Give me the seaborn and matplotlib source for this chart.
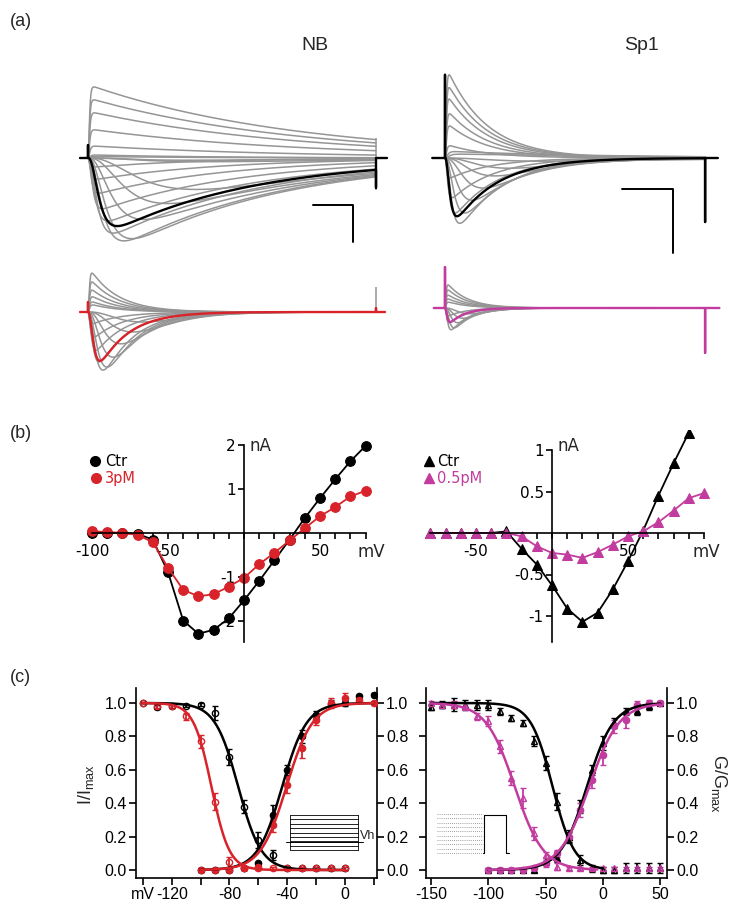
import numpy as np
import pandas as pd
import matplotlib
matplotlib.use('Agg')
import matplotlib.pyplot as plt
import seaborn as sns

# ---------------- data ----------------
# (a) current traces: per sweep peak amplitude (nA), time to peak (ms), decay tau (ms)
nb_pulse = 72.0
nb_gray_amp = [1.92, 1.57, 1.22, 0.76, 0.32, 0.08, 0.04, -0.06, -0.1,
               -0.24, -0.57, -0.95, -1.37, -1.70, -2.03, -2.24, -2.18, -1.66, -1.23, -0.85]
nb_gray_tp = [1.5, 1.5, 1.6, 1.6, 1.8, 2.0, 1.5, 25, 30,
              1.8, 2.3, 2.7, 3.6, 5.0, 6.3, 9.0, 11.0, 14.0, 20.0, 27.0]
nb_gray_tau = [52, 52, 52, 52, 50, 30, 30, 50, 50,
               27, 32, 34, 36, 38, 38, 40, 40, 43, 45, 50]
nb_ctr_trace = {'amp': -1.84, 'tp': 7.3, 'tau': 36.0, 'on': 0.35, 'off': -0.8}

sp1_pulse = 51.0
sp1_gray_amp = [1.30, 1.10, 0.92, 0.69, 0.50, 0.19, 0.10, 0.06, -0.05,
                -0.31, -0.62, -0.86, -1.02, -0.86, -0.66, -0.47, -0.28, -0.16]
sp1_gray_tp = [0.8, 0.8, 0.8, 0.9, 0.9, 1.0, 2.0, 3.0, 20.0,
               1.0, 1.4, 2.0, 2.9, 3.9, 5.3, 7.5, 9.8, 12.7]
sp1_gray_tau = [7.8, 7.8, 7.8, 7.8, 7.8, 8.0, 30, 40, 30,
                8.4, 8.4, 8.6, 8.8, 9.0, 9.5, 10.0, 11.0, 12.0]
sp1_ctr_trace = {'amp': -0.91, 'tp': 2.35, 'tau': 8.4, 'on': 1.3, 'off': -1.0}

nb_tx_gray_amp = [1.05, 0.81, 0.59, 0.41, 0.27, 0.19,
                  -0.32, -0.68, -1.03, -1.35, -1.57, -1.49, -1.22, -0.86, -0.54, -0.27]
nb_tx_gray_tp = [1.0, 1.0, 1.0, 1.1, 1.1, 1.2,
                 1.0, 1.5, 2.0, 2.75, 3.75, 4.75, 6.25, 8.25, 11.25, 13.75]
nb_tx_gray_tau = [7.0, 7.0, 7.0, 7.0, 7.0, 7.0,
                  7.5, 7.5, 7.5, 7.5, 7.5, 7.5, 7.5, 8.0, 8.0, 8.0]
nb_tx_trace = {'amp': -1.32, 'tp': 3.0, 'tau': 7.3, 'on': 0.27, 'off': 0.1}

sp1_tx_gray_amp = [0.36, 0.28, 0.20, 0.14, 0.09,
                   -0.125, -0.23, -0.34, -0.31, -0.23, -0.16, -0.09]
sp1_tx_gray_tp = [0.6, 0.6, 0.6, 0.6, 0.7,
                  0.6, 0.8, 1.2, 1.8, 2.5, 3.5, 4.9]
sp1_tx_gray_tau = [4.0, 4.0, 4.0, 4.0, 4.0,
                   3.5, 3.5, 3.5, 3.5, 3.5, 3.5, 3.5]
sp1_tx_trace = {'amp': -0.22, 'tp': 1.0, 'tau': 3.0, 'on': 0.64, 'off': -0.7}

# (b) I-V relations
iv_v_nb = [-100, -90, -80, -70, -60, -50, -40, -30, -20, -10, 0, 10, 20, 30, 40, 50, 60, 70, 80]
iv_ctr_nb = [0.0, 0.01, 0.0, -0.02, -0.15, -0.89, -1.99, -2.29, -2.20, -1.94, -1.53,
             -1.09, -0.62, -0.15, 0.34, 0.79, 1.22, 1.63, 1.98]
iv_3pm_nb = [0.04, 0.02, 0.0, -0.04, -0.21, -0.79, -1.29, -1.44, -1.39, -1.22, -1.02,
             -0.71, -0.45, -0.17, 0.11, 0.38, 0.59, 0.83, 0.96]

iv_v_sp1_ctr = [-80, -70, -60, -50, -40, -30, -20, -10, 0, 10, 20, 30, 40, 50, 60, 70, 80, 90]
iv_ctr_sp1 = [0.0, 0.0, 0.0, 0.0, 0.0, 0.02, -0.19, -0.38, -0.63, -0.91, -1.07, -0.96,
              -0.68, -0.34, 0.03, 0.45, 0.84, 1.21]
iv_v_sp1 = [-80, -70, -60, -50, -40, -30, -20, -10, 0, 10, 20, 30, 40, 50, 60, 70, 80, 90, 100]
iv_05pm_sp1 = [0.0, 0.0, 0.0, 0.0, 0.0, 0.0, -0.04, -0.16, -0.24, -0.26, -0.30, -0.23,
               -0.14, -0.04, 0.02, 0.13, 0.27, 0.42, 0.48]

# (c) steady-state inactivation and activation (NB)
inact_v_nb = [-140, -130, -120, -110, -100, -90, -80, -70, -60, -50, -40, -30, -20, -10, 0]
inact_ctr_nb = [1.0, 0.976, 0.98, 0.984, 0.99, 0.94, 0.676, 0.38, 0.18, 0.09, 0.01, 0.01, 0.01, 0.01, 0.01]
inact_ctr_nb_err = [0.0, 0.01, 0.01, 0.01, 0.01, 0.04, 0.05, 0.04, 0.05, 0.03, 0.01, 0.01, 0.01, 0.01, 0.01]
inact_3pm_nb = [1.0, 0.98, 0.98, 0.92, 0.77, 0.41, 0.05, 0.01, 0.01, 0.01, 0.01, 0.01, 0.01, 0.01, 0.01]
inact_3pm_nb_err = [0.0, 0.01, 0.01, 0.02, 0.04, 0.05, 0.03, 0.01, 0.01, 0.01, 0.01, 0.01, 0.01, 0.01, 0.01]
act_v_nb = [-100, -90, -80, -70, -60, -50, -40, -30, -20, -10, 0, 10, 20]
act_ctr_nb = [0.0, 0.0, 0.0, 0.01, 0.04, 0.33, 0.60, 0.80, 0.93, 0.996, 1.0, 1.04, 1.05]
act_ctr_nb_err = [0.01, 0.01, 0.01, 0.01, 0.01, 0.06, 0.03, 0.04, 0.02, 0.02, 0.02, 0.01, 0.01]
act_3pm_nb = [0.0, 0.0, 0.0, 0.01, 0.02, 0.27, 0.51, 0.73, 0.90, 1.0, 1.03, 1.02, 1.0]
act_3pm_nb_err = [0.01, 0.01, 0.01, 0.01, 0.01, 0.04, 0.05, 0.06, 0.03, 0.03, 0.03, 0.02, 0.01]

# (c) Sp1
inact_v_sp1 = [-150, -140, -130, -120, -110, -100, -90, -80, -70, -60, -50, -40, -30,
               -20, -10, 0, 10, 20, 30, 40, 50]
inact_ctr_sp1 = [0.976, 0.99, 0.99, 0.99, 0.99, 0.99, 0.95, 0.91, 0.88, 0.77, 0.64, 0.41,
                 0.20, 0.06, 0.01, 0.0, 0.0, 0.01, 0.01, 0.01, 0.01]
inact_ctr_sp1_err = [0.02, 0.02, 0.04, 0.03, 0.03, 0.03, 0.02, 0.02, 0.02, 0.03, 0.04, 0.05,
                     0.04, 0.03, 0.02, 0.02, 0.02, 0.03, 0.03, 0.03, 0.03]
inact_05pm_sp1 = [1.0, 0.99, 0.99, 0.98, 0.92, 0.89, 0.74, 0.55, 0.43, 0.22, 0.09, 0.02,
                  0.01, 0.01, 0.01, 0.01, 0.01, 0.01, 0.01, 0.01, 0.01]
inact_05pm_sp1_err = [0.01, 0.01, 0.02, 0.02, 0.02, 0.03, 0.04, 0.04, 0.06, 0.04, 0.02, 0.02,
                      0.01, 0.01, 0.01, 0.01, 0.01, 0.01, 0.01, 0.01, 0.01]
act_v_sp1 = [-100, -90, -80, -70, -60, -50, -40, -30, -20, -10, 0, 10, 20, 30, 40, 50]
act_ctr_sp1 = [0.0, 0.0, 0.0, 0.0, 0.0, 0.05, 0.07, 0.20, 0.38, 0.60, 0.76, 0.88, 0.95, 0.95, 0.98, 1.0]
act_ctr_sp1_err = [0.01, 0.01, 0.01, 0.01, 0.01, 0.02, 0.02, 0.03, 0.04, 0.03, 0.04, 0.03,
                   0.02, 0.02, 0.02, 0.01]
act_05pm_sp1 = [0.0, 0.0, 0.0, 0.0, 0.01, 0.04, 0.10, 0.20, 0.36, 0.54, 0.69, 0.86, 0.90, 0.99, 1.0, 1.0]
act_05pm_sp1_err = [0.01, 0.01, 0.01, 0.01, 0.01, 0.02, 0.02, 0.02, 0.04, 0.05, 0.06, 0.04,
                    0.05, 0.02, 0.02, 0.01]

# Boltzmann fits (V1/2 mV, slope k mV)
fit_inact_ctr_nb = (-74.0, 8.0)
fit_inact_3pm_nb = (-92.5, 6.2)
fit_act_ctr_nb = (-43.5, 8.5)
fit_act_3pm_nb = (-40.5, 9.0)
fit_inact_ctr_sp1 = (-44.0, 9.5)
fit_inact_05pm_sp1 = (-77.0, 12.5)
fit_act_ctr_sp1 = (-14.0, 11.5)
fit_act_05pm_sp1 = (-12.0, 13.0)

RED = '#d8232a'
MAG = '#c23c9f'
GRAY = '#959595'

# ---------------- figure setup ----------------
sns.set_style('ticks')
plt.rcParams['font.family'] = ['Liberation Sans', 'DejaVu Sans']
plt.rcParams['axes.linewidth'] = 1.1

W, H = 729, 901
fig = plt.figure(figsize=(W / 100, H / 100), dpi=100)


def px_axes(left, top, right, bottom):
    return fig.add_axes([left / W, 1 - bottom / H, (right - left) / W, (bottom - top) / H])


def na_current(t, amp, tp, tau_h):
    # m^3 h shape whose peak lands at tp
    lo, hi = np.log(tp * 1e-3), np.log(tp * 1e3)
    for _ in range(80):
        tm = np.exp(0.5 * (lo + hi))
        x = np.exp(-tp / tm)
        g = 3 * tau_h * x / (tm * (1 - x)) - 1
        if g > 0:
            hi = np.log(tm)
        else:
            lo = np.log(tm)
    f = (1 - np.exp(-t / tm)) ** 3 * np.exp(-t / tau_h)
    return amp * f / f.max()


def trace_panel(box, x0, pxms, y0, pxna, T, amps, tps, taus, main, main_color, pre, post):
    left, top, right, bottom = box
    ax = px_axes(left, top, right, bottom)
    ax.set_xlim((left - x0) / pxms, (right - x0) / pxms)
    ax.set_ylim((y0 - bottom) / pxna, (y0 - top) / pxna)
    t = np.linspace(0, T, 1500)
    frames = []
    for i, (a, tp, th) in enumerate(zip(amps, tps, taus)):
        frames.append(pd.DataFrame({'t': t, 'I': na_current(t, a, tp, th), 'sweep': i}))
    df = pd.concat(frames)
    sns.lineplot(data=df, x='t', y='I', units='sweep', estimator=None, sort=False,
                 color=GRAY, lw=1.1, ax=ax, legend=False)
    I = na_current(t, main['amp'], main['tp'], main['tau'])
    tt = np.concatenate([[-pre, 0, 0], t, [T, T, T + post]])
    ii = np.concatenate([[0, 0, main['on']], I, [main['off'], 0, 0]])
    sns.lineplot(x=tt, y=ii, sort=False, estimator=None, color=main_color, lw=1.7, ax=ax)
    ax.axis('off')
    return ax


# ---------------- (a) ----------------
ax1 = trace_panel((70, 55, 395, 260), 88, 4.0, 158, 37.0, nb_pulse,
                  nb_gray_amp, nb_gray_tp, nb_gray_tau, nb_ctr_trace, 'black', 2.0, 2.75)
ax1.vlines(nb_pulse, -0.86, 0.54, color=GRAY, lw=1.1, zorder=1)
ax2 = trace_panel((425, 55, 725, 260), 445, 5.1, 158, 64.0, sp1_pulse,
                  sp1_gray_amp, sp1_gray_tp, sp1_gray_tau, sp1_ctr_trace, 'black', 2.5, 2.5)
ax3 = trace_panel((70, 262, 395, 385), 88, 4.0, 312, 37.0, nb_pulse,
                  nb_tx_gray_amp, nb_tx_gray_tp, nb_tx_gray_tau, nb_tx_trace, RED, 2.0, 2.25)
ax3.vlines(nb_pulse, 0, 0.68, color=GRAY, lw=1.1, zorder=1)
ax4 = trace_panel((425, 262, 725, 385), 445, 5.1, 308, 64.0, sp1_pulse,
                  sp1_tx_gray_amp, sp1_tx_gray_tp, sp1_tx_gray_tau, sp1_tx_trace, MAG, 2.2, 2.8)

# ---------------- (b) ----------------
def iv_axes(box, x0, pxmv, y0, pxna, xb, yb, xticks, xlabels, yticks, ylabels):
    left, top, right, bottom = box
    ax = px_axes(left, top, right, bottom)
    ax.set_xlim((left - x0) / pxmv, (right - x0) / pxmv)
    ax.set_ylim((y0 - bottom) / pxna, (y0 - top) / pxna)
    ax.patch.set_alpha(0)
    ax.spines['left'].set_position(('data', 0))
    ax.spines['bottom'].set_position(('data', 0))
    ax.spines['right'].set_visible(False)
    ax.spines['top'].set_visible(False)
    ax.spines['bottom'].set_bounds(*xb)
    ax.spines['left'].set_bounds(*yb)
    for s in ('left', 'bottom'):
        ax.spines[s].set_linewidth(1.2)
        ax.spines[s].set_color('black')
    ax.set_xticks(xticks)
    ax.set_xticklabels(xlabels, fontfamily='DejaVu Sans', fontsize=11)
    ax.set_yticks(yticks)
    ax.set_yticklabels(ylabels, fontfamily='DejaVu Sans', fontsize=11)
    ax.tick_params(direction='out', length=4, width=1.2, pad=2, colors='black')
    ax.tick_params(axis='x', pad=4)
    ax.set_xlabel('')
    ax.set_ylabel('')
    return ax


bx1 = iv_axes((50, 430, 400, 650), 244, 1.52, 533, 44.0, (-100, 80), (-2.47, 2),
              list(range(-100, 81, 10)),
              ['-100', '', '', '', '', '-50', '', '', '', '', '', '', '', '', '', '50', '', '', ''],
              [-2, -1, 1, 2], ['-2', '-1', '1', '2'])
sns.lineplot(x=iv_v_nb, y=iv_ctr_nb, color='black', lw=1.3, marker='o', ms=7,
             mec='black', ax=bx1)
sns.lineplot(x=iv_v_nb, y=iv_3pm_nb, color=RED, lw=1.3, marker='o', ms=7,
             mec=RED, ax=bx1)

bx2 = iv_axes((405, 430, 740, 650), 552, 1.52, 533, 83.0, (-80, 100), (-1.31, 1.0),
              list(range(-80, 101, 10)),
              ['', '', '', '-50', '', '', '', '', '', '', '', '', '', '50', '', '', '', '', ''],
              [-1, -0.5, 0.5, 1], ['-1', '-0.5', '0.5', '1'])
sns.lineplot(x=iv_v_sp1_ctr, y=iv_ctr_sp1, color='black', lw=1.3, marker='^', ms=7.5,
             mec='black', ax=bx2)
sns.lineplot(x=iv_v_sp1, y=iv_05pm_sp1, color=MAG, lw=1.3, marker='^', ms=7.5,
             mec=MAG, ax=bx2)


# ---------------- (c) ----------------
def boltz_act(v, p):
    return 1 / (1 + np.exp((p[0] - v) / p[1]))


def boltz_inact(v, p):
    return 1 / (1 + np.exp((v - p[0]) / p[1]))


def gv_axes(box, x0, pxmv, xticks, xlabels, label_left):
    left, top, right, bottom = box
    ax = px_axes(left, top, right, bottom)
    ax.set_xlim((left - x0) / pxmv, (right - x0) / pxmv)
    ax.set_ylim((870 - bottom) / 167, (870 - top) / 167)
    ax.patch.set_alpha(0)
    ax.spines['top'].set_visible(False)
    for s in ('left', 'right', 'bottom'):
        ax.spines[s].set_linewidth(1.2)
        ax.spines[s].set_color('black')
    ax.set_xticks(xticks)
    ax.set_xticklabels(xlabels, fontsize=11.5)
    ax.set_yticks([0, 0.2, 0.4, 0.6, 0.8, 1.0])
    ax.set_yticklabels(['0.0', '0.2', '0.4', '0.6', '0.8', '1.0'], fontsize=11.5)
    ax.tick_params(direction='out', length=5, width=1.2, pad=1.5, colors='black')
    ax.tick_params(axis='y', left=True, right=True, labelleft=label_left, labelright=True)
    return ax


def points(ax, v, y, err, color, marker, filled, ms):
    ax.errorbar(v, y, yerr=err, fmt=marker, color=color, mec=color,
                mfc=color if filled else 'none', ms=ms, mew=1.0,
                elinewidth=1.3, capsize=2.5, capthick=1.3, zorder=3)


def fit(ax, lo, hi, p, kind, color):
    v = np.linspace(lo, hi, 300)
    y = boltz_act(v, p) if kind == 'act' else boltz_inact(v, p)
    sns.lineplot(x=v, y=y, color=color, lw=1.8, ax=ax, zorder=4)


cx1 = gv_axes((136, 688, 377, 878), 345, 1.444, list(range(-140, 21, 20)),
              ['mV', '-120', '', '-80', '', '-40', '', '0', ''], True)
points(cx1, inact_v_nb, inact_ctr_nb, inact_ctr_nb_err, 'black', 'o', False, 4.5)
points(cx1, act_v_nb, act_ctr_nb, act_ctr_nb_err, 'black', 'o', True, 4.5)
points(cx1, inact_v_nb, inact_3pm_nb, inact_3pm_nb_err, RED, 'o', False, 4.5)
points(cx1, act_v_nb, act_3pm_nb, act_3pm_nb_err, RED, 'o', True, 4.5)
fit(cx1, -140, 0, fit_inact_ctr_nb, 'inact', 'black')
fit(cx1, -100, 20, fit_act_ctr_nb, 'act', 'black')
fit(cx1, -140, 0, fit_inact_3pm_nb, 'inact', RED)
fit(cx1, -100, 20, fit_act_3pm_nb, 'act', RED)

cx2 = gv_axes((426, 688, 667, 878), 603, 1.147, [-150, -100, -50, 0, 50],
              ['-150', '-100', '-50', '0', '50'], False)
points(cx2, inact_v_sp1, inact_ctr_sp1, inact_ctr_sp1_err, 'black', '^', False, 4.5)
points(cx2, act_v_sp1, act_ctr_sp1, act_ctr_sp1_err, 'black', '^', True, 4.5)
points(cx2, inact_v_sp1, inact_05pm_sp1, inact_05pm_sp1_err, MAG, '^', False, 4.5)
points(cx2, act_v_sp1, act_05pm_sp1, act_05pm_sp1_err, MAG, 'o', True, 4.5)
fit(cx2, -150, 0, fit_inact_ctr_sp1, 'inact', 'black')
fit(cx2, -100, 50, fit_act_ctr_sp1, 'act', 'black')
fit(cx2, -150, -5, fit_inact_05pm_sp1, 'inact', MAG)
fit(cx2, -100, 50, fit_act_05pm_sp1, 'act', MAG)
for ax in (cx1, cx2):
    ax.set_xlabel('')
    ax.set_ylabel('')

# ---------------- overlay: labels, legends, scale bars, insets ----------------
ov = fig.add_axes([0, 0, 1, 1])
ov.set_xlim(0, W)
ov.set_ylim(H, 0)
ov.axis('off')
ov.set_zorder(10)
ov.patch.set_alpha(0)

ov.text(10, 21, '(a)', fontsize=13, ha='left', va='center')
ov.text(10, 433, '(b)', fontsize=13, ha='left', va='center')
ov.text(10, 677, '(c)', fontsize=13, ha='left', va='center')
ov.text(315, 46, 'NB', fontsize=14, ha='center', va='center')
ov.text(642, 46, 'Sp1', fontsize=14, ha='center', va='center')

# scale bars
ov.plot([313, 353, 353], [205, 205, 242], color='black', lw=1.4)
ov.plot([622, 673, 673], [189, 189, 253], color='black', lw=1.4)

# (b) legends and unit labels
leg_font = dict(fontsize=10.5, fontfamily='DejaVu Sans', va='center', ha='left')
ov.plot(95, 461, 'o', color='black', ms=7)
ov.text(105, 461, 'Ctr', color='black', **leg_font)
ov.plot(96, 478, 'o', color=RED, ms=7)
ov.text(105, 478, '3pM', color=RED, **leg_font)
ov.plot(429, 461, '^', color='black', ms=7)
ov.text(437, 461, 'Ctr', color='black', **leg_font)
ov.plot(429, 478, '^', color=MAG, ms=7)
ov.text(437, 478, '0.5pM', color=MAG, **leg_font)
unit_font = dict(fontsize=12, fontfamily='DejaVu Sans', va='center', ha='left')
ov.text(250, 446, 'nA', **unit_font)
ov.text(558, 446, 'nA', **unit_font)
ov.text(358, 552, 'mV', **unit_font)
ov.text(693, 552, 'mV', **unit_font)

# (c) axis labels
ov.text(86, 785, 'I/I$_{\\mathregular{max}}$', fontsize=13, rotation=90, ha='center', va='center')
ov.text(719, 783, 'G/G$_{\\mathregular{max}}$', fontsize=13, rotation=270, ha='center', va='center')

# left inset: holding protocol
for yy in np.linspace(815, 850, 9):
    ov.plot([290, 358], [yy, yy], color='black', lw=0.6)
ov.plot([290, 290], [815, 850], color='black', lw=0.6)
ov.plot([358, 358], [815, 850], color='black', lw=0.6)
ov.plot([286, 363], [842, 842], color='black', lw=0.7)
ov.text(360, 836, 'Vh', fontsize=9, ha='left', va='center')

# right inset: prepulse grid + test step
for yy in np.linspace(814, 853, 10):
    ov.plot([437, 483], [yy, yy], color='#808080', lw=0.6, ls=(0, (1, 1.5)))
ov.plot([483, 484, 484, 506, 506, 509], [853, 853, 815, 815, 853, 853], color='black', lw=0.8)

fig.savefig('out.png', dpi=100)
